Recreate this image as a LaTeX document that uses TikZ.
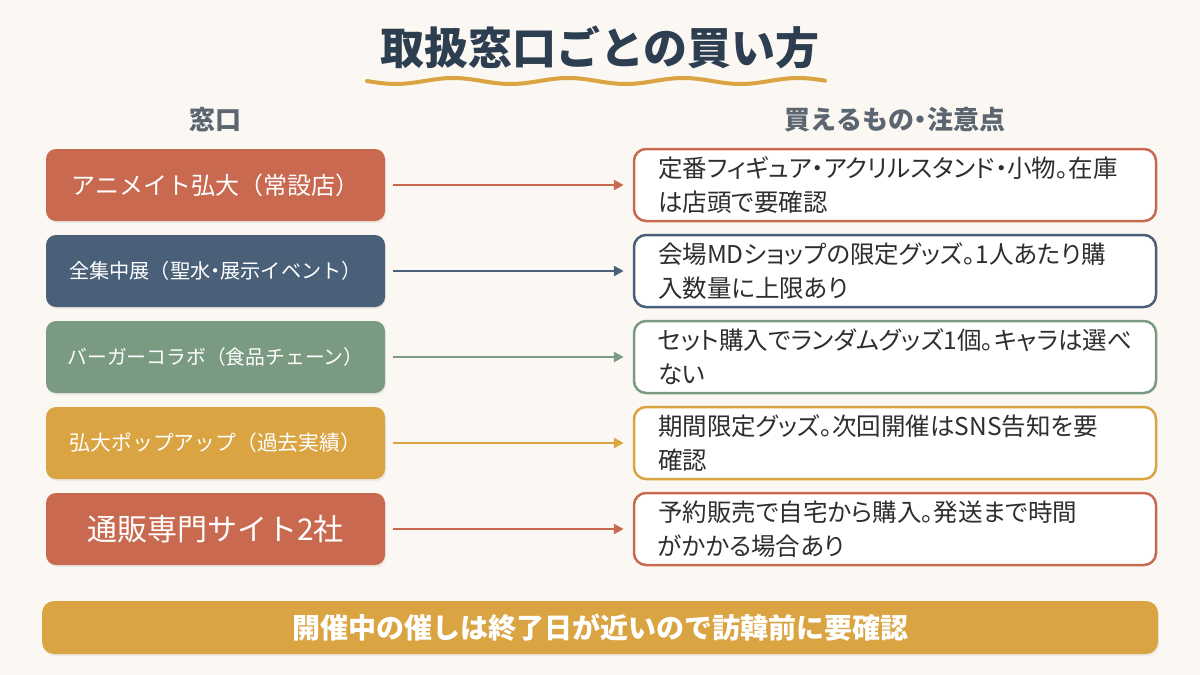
\documentclass[tikz,border=0pt]{standalone}
\usepackage{fontspec}
\setmainfont{Noto Sans CJK JP}
\newfontfamily\jpp[RawFeature=+palt]{Noto Sans CJK JP}
\newcommand\nd{{\jpp ・}}
\usetikzlibrary{arrows.meta,shadows}
\definecolor{bgc}{HTML}{FBF7F2}
\definecolor{titlec}{HTML}{2C3E50}
\definecolor{headc}{HTML}{5B6670}
\definecolor{terra}{HTML}{C96A50}
\definecolor{navy}{HTML}{4A6078}
\definecolor{sage}{HTML}{7A9A82}
\definecolor{gold}{HTML}{D9A441}
\definecolor{bodyc}{HTML}{2E2E2E}
\tikzset{
  lbox/.style={rounded corners=10pt, minimum width=339pt, minimum height=72pt, inner sep=0pt, text=white,
    drop shadow={shadow xshift=1pt, shadow yshift=-2pt, opacity=0.12}},
  rbox/.style={rounded corners=12pt, fill=white, line width=2.5pt, text width=474pt, inner xsep=24pt,
    inner ysep=2pt, minimum height=72pt, align=left, text=bodyc, font=\jpp\fontsize{24.5}{34}\selectfont},
  conn/.style={line width=2.5pt, -{Triangle[length=10pt,width=10pt]}, shorten <=8pt, shorten >=9pt},
  head/.style={text=headc, font=\fontsize{26}{30}\selectfont\bfseries}
}
\begin{document}
\begin{tikzpicture}[x=1pt,y=-1pt]
\fill[bgc] (0,0) rectangle (1200,675);
\useasboundingbox (0,0) rectangle (1200,675);

\node[text=titlec, font=\fontsize{44}{50}\selectfont\bfseries] (title) at (600,47) {取扱窓口ごとの買い方};
\draw[gold, line width=4pt, line cap=round] plot[domain=367:825, samples=120] (\x, {81+3*sin((\x-367)*3.1304)});

\node[head] (hl) at (215,120) {窓口};
\node[head] (hr) at (895,120) {買えるもの\nd 注意点};

\node[lbox, fill=terra, font=\fontsize{24}{28}\selectfont] (L1) at (215.5,185) {アニメイト弘大（常設店）};
\node[lbox, fill=navy, font=\fontsize{20.2}{24}\selectfont] (L2) at (215.5,271) {全集中展（聖水\nd 展示イベント）};
\node[lbox, fill=sage, font=\fontsize{19.8}{24}\selectfont] (L3) at (215.5,357) {バーガーコラボ（食品チェーン）};
\node[lbox, fill=gold, font=\fontsize{20.8}{24}\selectfont] (L4) at (215.5,443) {弘大ポップアップ（過去実績）};
\node[lbox, fill=terra, font=\fontsize{30}{34}\selectfont] (L5) at (215.5,529) {通販専門サイト2社};

\node[rbox, draw=terra] (R1) at (895,185) {定番フィギュア・アクリルスタンド・小物。在庫\\は店頭で要確認};
\node[rbox, draw=navy] (R2) at (895,271) {会場MDショップの限定グッズ。1人あたり購\\入数量に上限あり};
\node[rbox, draw=sage] (R3) at (895,357) {セット購入でランダムグッズ1個。キャラは選べ\\ない};
\node[rbox, draw=gold] (R4) at (895,443) {期間限定グッズ。次回開催はSNS告知を要\\確認};
\node[rbox, draw=terra] (R5) at (895,529) {予約販売で自宅から購入。発送まで時間\\がかかる場合あり};

\draw[conn, terra] (L1.east) -- (R1.west);
\draw[conn, navy] (L2.east) -- (R2.west);
\draw[conn, sage] (L3.east) -- (R3.west);
\draw[conn, gold] (L4.east) -- (R4.west);
\draw[conn, terra] (L5.east) -- (R5.west);

\node[rounded corners=12pt, fill=gold, minimum width=1116pt, minimum height=53pt, inner sep=0pt,
  text=white, font=\fontsize{28}{32}\selectfont\bfseries,
  drop shadow={shadow xshift=1pt, shadow yshift=-2pt, opacity=0.12}] (note) at (600,627.5) {開催中の催しは終了日が近いので訪韓前に要確認};
\end{tikzpicture}
\end{document}
